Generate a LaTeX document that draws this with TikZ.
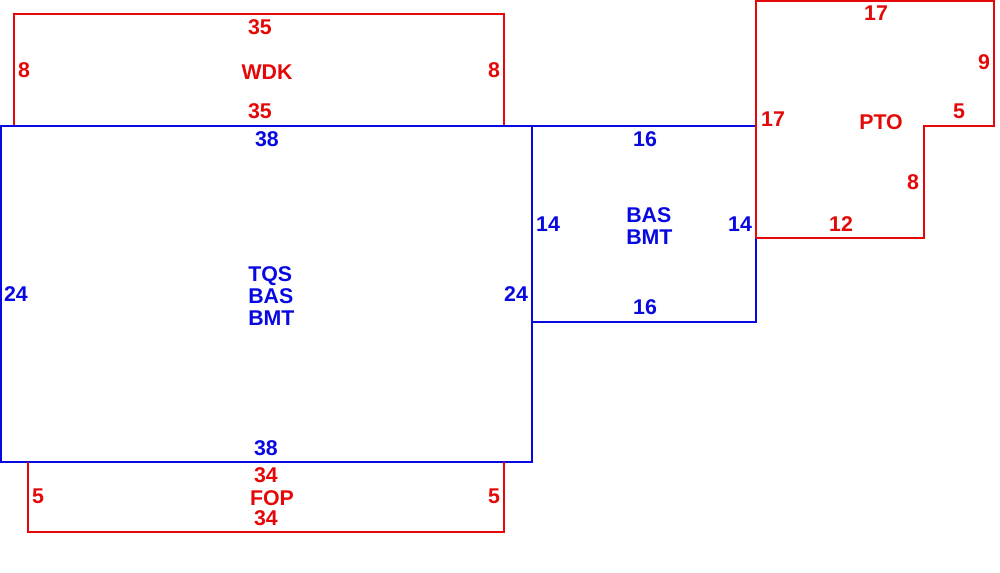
\documentclass[tikz,border=0pt]{standalone}
\usepackage{fontspec}
\setmainfont{Liberation Sans}
\definecolor{pred}{RGB}{228,8,8}
\definecolor{pblue}{RGB}{8,8,225}
\begin{document}
\begin{tikzpicture}[x=0.75pt,y=-0.75pt,
  redline/.style={draw=pred,line width=0.9pt},
  blueline/.style={draw=pblue,line width=0.9pt},
  lbl/.style={inner sep=0pt,font=\fontsize{16pt}{16.5pt}\selectfont\bfseries},
  rlbl/.style={lbl,text=pred},
  blbl/.style={lbl,text=pblue},
  multi/.style={align=left,anchor=west}]
\useasboundingbox (0,0) rectangle (1000,572);
% WDK
\draw[redline] (14,126) -- (14,14) -- (504,14) -- (504,126);
% main
\draw[blueline] (1,126) rectangle (532,462);
% small blue
\draw[blueline] (532,126) -- (756,126) -- (756,322) -- (532,322);
% PTO
\draw[redline] (756,238) -- (756,1) -- (994,1) -- (994,126) -- (924,126) -- (924,238) -- (756,238);
% FOP
\draw[redline] (28,462) -- (28,532) -- (504,532) -- (504,462);
% WDK labels
\node[rlbl] (wdkt) at (260,27) {35};
\node[rlbl] (wdkl) at (24,70) {8};
\node[rlbl] (wdk) at (267,72) {WDK};
\node[rlbl] (wdkr) at (494,70) {8};
\node[rlbl] (wdkb) at (260,111) {35};
% main labels
\node[blbl] (mt) at (267,139) {38};
\node[blbl] (ml) at (16,294) {24};
\node[blbl,multi] (mtxt) at (248,296) {TQS\\BAS\\BMT};
\node[blbl] (mr) at (516,294) {24};
\node[blbl] (mb) at (266,448) {38};
% small blue labels
\node[blbl] (st) at (645,139) {16};
\node[blbl] (sl) at (548,224) {14};
\node[blbl,multi] (stxt) at (626,226) {BAS\\BMT};
\node[blbl] (sr) at (740,224) {14};
\node[blbl] (sb) at (645,307) {16};
% PTO labels
\node[rlbl] (pt) at (876,13) {17};
\node[rlbl] (pr) at (984,62) {9};
\node[rlbl] (pl) at (773,119) {17};
\node[rlbl] (pto) at (881,122) {PTO};
\node[rlbl] (ps) at (959,111) {5};
\node[rlbl] (pe) at (913,182) {8};
\node[rlbl] (pb) at (841,224) {12};
% FOP labels
\node[rlbl] (ft) at (266,475) {34};
\node[rlbl] (fl) at (38,496) {5};
\node[rlbl] (fop) at (272,498.5) {FOP};
\node[rlbl] (fr) at (494,496) {5};
\node[rlbl] (fb) at (266,518.5) {34};
\end{tikzpicture}
\end{document}
